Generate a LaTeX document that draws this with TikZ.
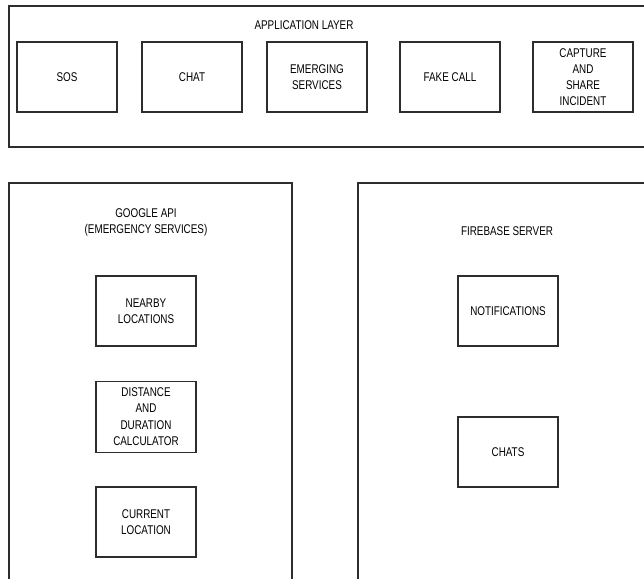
\documentclass[tikz,border=0pt]{standalone}
\usepackage{fontspec}
\setmainfont[FakeStretch=0.78]{Liberation Sans}
\usepackage{tikz}
\usetikzlibrary{positioning}
\definecolor{boxgray}{RGB}{45,45,45}

\begin{document}
\begin{tikzpicture}[
    module/.style={draw=boxgray, line width=0.8pt, minimum width=2.5cm, minimum height=1.75cm,
        inner sep=1pt, align=center, text=black, font=\fontsize{9}{11.5}\selectfont},
    title/.style={align=center, text=black, font=\fontsize{9}{11.5}\selectfont}]
    \useasboundingbox (0,0) rectangle (16.1,14.475);
    \clip (0,0) rectangle (16.1,14.475);
    % layers
    \draw[boxgray, line width=1pt] (0.225,10.8) rectangle (16.5,14.325);
    \draw[boxgray, line width=1pt] (0.225,-0.5) rectangle (7.3,9.9);
    \draw[boxgray, line width=1pt] (8.95,-0.5) rectangle (16.5,9.9);
    % application layer
    \node[title] (app) at (7.6,13.85) {APPLICATION LAYER};
    \node[module] (sos) at (1.675,12.55) {SOS};
    \node[module] (chat) at (4.8,12.55) {CHAT};
    \node[module] (emerging) at (7.925,12.55) {EMERGING\\SERVICES};
    \node[module] (fakecall) at (11.25,12.55) {FAKE CALL};
    \node[module] (capture) at (14.575,12.55) {CAPTURE\\AND\\SHARE\\INCIDENT};
    % google api
    \node[title] (google) at (3.65,8.91) {GOOGLE API\\(EMERGENCY SERVICES)};
    \node[module] (nearby) at (3.65,6.7) {NEARBY\\LOCATIONS};
    \node[module, minimum height=1.775cm] (distance) at (3.65,4.06) {DISTANCE\\AND\\DURATION\\CALCULATOR};
    \node[module] (current) at (3.65,1.425) {CURRENT\\LOCATION};
    % firebase
    \node[title] (firebase) at (12.675,8.7) {FIREBASE SERVER};
    \node[module] (notify) at (12.7,6.7) {NOTIFICATIONS};
    \node[module] (chats) at (12.7,3.175) {CHATS};
\end{tikzpicture}
\end{document}
